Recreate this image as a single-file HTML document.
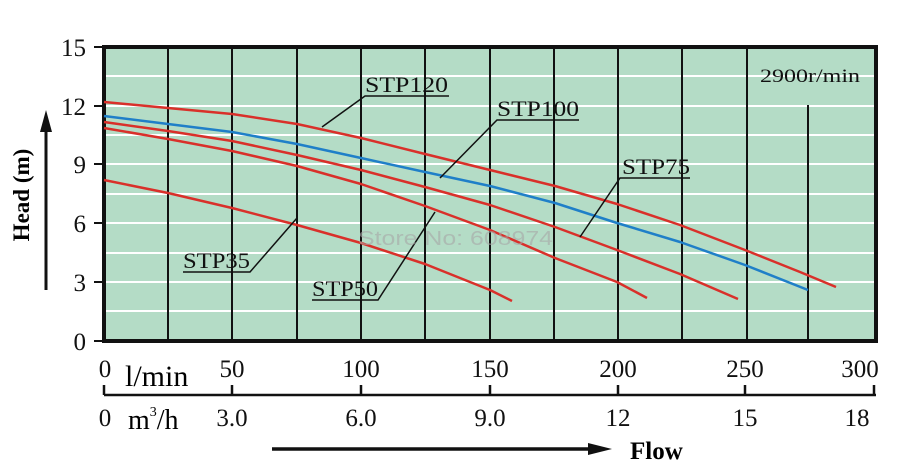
<!DOCTYPE html><html><head><meta charset="utf-8"><style>body{margin:0;background:#fff}svg{display:block}</style></head><body>
<svg width="910" height="476" xmlns="http://www.w3.org/2000/svg" font-family="Liberation Serif, serif">
<rect x="104" y="47" width="772" height="294" fill="#b4dcc6"/>
<g stroke="#fff" stroke-width="2">
<line x1="104" y1="76" x2="876" y2="76"/><line x1="104" y1="106" x2="876" y2="106"/><line x1="104" y1="135" x2="876" y2="135"/><line x1="104" y1="164" x2="876" y2="164"/><line x1="104" y1="194" x2="876" y2="194"/><line x1="104" y1="223" x2="876" y2="223"/><line x1="104" y1="253" x2="876" y2="253"/><line x1="104" y1="282" x2="876" y2="282"/><line x1="104" y1="311" x2="876" y2="311"/>
</g>
<g stroke="#111" stroke-width="2">
<line x1="168" y1="47" x2="168" y2="341"/><line x1="232" y1="47" x2="232" y2="341"/><line x1="297" y1="47" x2="297" y2="341"/><line x1="361" y1="47" x2="361" y2="341"/><line x1="425" y1="47" x2="425" y2="341"/><line x1="490" y1="47" x2="490" y2="341"/><line x1="554" y1="47" x2="554" y2="341"/><line x1="618" y1="47" x2="618" y2="341"/><line x1="682" y1="47" x2="682" y2="341"/><line x1="747" y1="47" x2="747" y2="341"/><line x1="808" y1="105" x2="808" y2="341"/>
</g>
<rect x="104" y="47" width="772" height="294" fill="none" stroke="#111" stroke-width="4"/>
<g stroke="#111" stroke-width="2">
<line x1="94" y1="47" x2="104" y2="47"/><line x1="94" y1="106" x2="104" y2="106"/><line x1="94" y1="164" x2="104" y2="164"/><line x1="94" y1="223" x2="104" y2="223"/><line x1="94" y1="282" x2="104" y2="282"/><line x1="94" y1="341" x2="104" y2="341"/>
</g>
<g font-size="25" text-anchor="end" fill="#111">
<text x="86" y="56">15</text><text x="86" y="115">12</text><text x="86" y="173">9</text><text x="86" y="232">6</text><text x="86" y="291">3</text><text x="86" y="350">0</text>
</g>
<text transform="translate(29,195) rotate(-90)" font-size="23" font-weight="bold" text-anchor="middle">Head (m)</text>
<line x1="46" y1="290" x2="46" y2="130" stroke="#111" stroke-width="3"/><polygon points="40,132 52,132 46,110" fill="#111"/>
<g fill="none" stroke-width="2.5" stroke-linejoin="round">
<polyline stroke="#d9302a" points="104,102 168,108 232,114 297,124 361,138 425,154 490,170 555,186 617,204 680,225 745,250 800,272 836,287"/>
<polyline stroke="#d9302a" points="104,122 168,131 232,141 297,155 361,170 425,187 490,205 555,227 617,250 680,274 738,299"/>
<polyline stroke="#d9302a" points="104,128 168,139 232,151 297,166 361,184 425,206 490,230 555,258 617,282 647,298"/>
<polyline stroke="#d9302a" points="104,180 168,193 232,208 297,225 361,243 425,264 490,290 512,301"/>
<polyline stroke="#1f7fc8" points="104,116 168,124 232,132 297,144 361,158 425,172 490,186 555,203 617,223 680,242 745,265 808,290"/>
</g>
<g stroke="#111" stroke-width="1.5" fill="none">
<polyline points="449,96 365,96 322,127"/>
<polyline points="579,120 497,120 440,178"/>
<polyline points="690,178 620,178 580,237"/>
<polyline points="312,300 378,300 435,212"/>
<polyline points="183,272 250,272 297,218"/>
</g>
<g font-size="22" fill="#111">
<text x="365" y="92" textLength="83" lengthAdjust="spacingAndGlyphs">STP120</text><text x="497" y="116" textLength="82" lengthAdjust="spacingAndGlyphs">STP100</text><text x="622" y="174" textLength="68" lengthAdjust="spacingAndGlyphs">STP75</text><text x="312" y="296" textLength="66" lengthAdjust="spacingAndGlyphs">STP50</text><text x="183" y="268" textLength="67" lengthAdjust="spacingAndGlyphs">STP35</text>
<text x="760" y="82" font-size="19" textLength="100" lengthAdjust="spacingAndGlyphs">2900r/min</text>
</g>
<text x="358" y="245" font-family="Liberation Sans, sans-serif" font-size="20" fill="#a8a8a8" opacity="0.6" textLength="195" lengthAdjust="spacingAndGlyphs">Store No: 608974</text>
<g stroke="#111" stroke-width="2.5">
<line x1="104" y1="395" x2="876" y2="395"/>
<line x1="104" y1="385" x2="104" y2="395"/><line x1="232" y1="385" x2="232" y2="395"/><line x1="361" y1="385" x2="361" y2="395"/><line x1="490" y1="385" x2="490" y2="395"/><line x1="618" y1="385" x2="618" y2="395"/><line x1="745" y1="385" x2="745" y2="395"/><line x1="874" y1="385" x2="874" y2="395"/>
</g>
<g font-size="25" fill="#111" text-anchor="middle">
<text x="105" y="377">0</text><text x="232" y="377">50</text><text x="361" y="377">100</text><text x="490" y="377">150</text><text x="618" y="377">200</text><text x="745" y="377">250</text><text x="860" y="377">300</text>
<text x="105" y="426">0</text><text x="232" y="426">3.0</text><text x="361" y="426">6.0</text><text x="490" y="426">9.0</text><text x="618" y="426">12</text><text x="745" y="426">15</text><text x="857" y="426">18</text>
</g>
<text x="125" y="386" font-size="30">l/min</text>
<text x="128" y="429" font-size="28">m<tspan font-size="14" dy="-13">3</tspan><tspan dy="13">/h</tspan></text>
<line x1="272" y1="449" x2="590" y2="449" stroke="#111" stroke-width="3.5"/><polygon points="588,443 588,455 612,449" fill="#111"/>
<text x="630" y="459" font-size="25" font-weight="bold">Flow</text>
</svg>
</body></html>
